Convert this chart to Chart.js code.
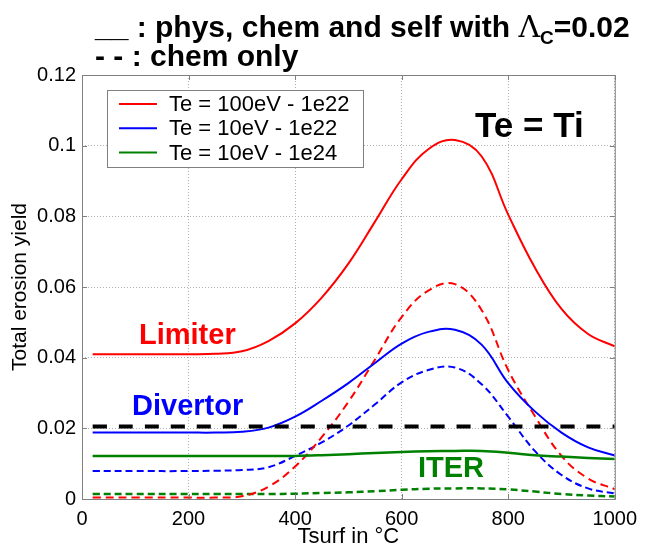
<!DOCTYPE html>
<html>
<head>
<meta charset="utf-8">
<script src="https://cdn.jsdelivr.net/npm/chart.js@4"></script>
<style>
    html, body { margin: 0; padding: 0; background: #fff; }
    #wrap { width: 645px; height: 554px; }
</style>
</head>
<body>
<div id="wrap"><canvas id="erosionChart" width="645" height="554"></canvas></div>
<script>
// -------------------------------------------------------------------------- Data

const tsurf = [20, 100, 200, 250, 300, 350, 400, 450, 500, 550, 600, 650, 700, 750, 800, 850, 900, 950, 1000]

// solid: phys, chem and self
const red100Full = [0.041, 0.041, 0.041, 0.0411, 0.0418, 0.0447, 0.0497, 0.057, 0.0666, 0.0785, 0.0905, 0.099, 0.1016, 0.097, 0.0805, 0.0655, 0.0538, 0.0467, 0.0432]
const blue10Full = [0.0188, 0.0188, 0.0188, 0.0188, 0.019, 0.0202, 0.0233, 0.0278, 0.0328, 0.0385, 0.044, 0.0473, 0.0479, 0.0437, 0.0328, 0.0248, 0.0188, 0.0146, 0.0123]
const green1e24Full = [0.0122, 0.0122, 0.0122, 0.0122, 0.0122, 0.0122, 0.0122, 0.0124, 0.0127, 0.013, 0.0133, 0.0135, 0.0136, 0.0136, 0.0131, 0.0124, 0.012, 0.0116, 0.0113]

// dashed: chem only
const red100Chem = [0.0004, 0.0004, 0.0004, 0.0004, 0.0008, 0.0035, 0.0092, 0.0175, 0.0275, 0.0395, 0.0515, 0.059, 0.0608, 0.0535, 0.0365, 0.0235, 0.0122, 0.0058, 0.0028]
const blue10Chem = [0.0079, 0.0079, 0.0079, 0.008, 0.0082, 0.009, 0.0122, 0.016, 0.0208, 0.0268, 0.033, 0.0365, 0.0372, 0.0325, 0.0233, 0.0136, 0.0068, 0.003, 0.0016]
const green1e24Chem = [0.0014, 0.0014, 0.0014, 0.0014, 0.0014, 0.0014, 0.0015, 0.0017, 0.0019, 0.0022, 0.0026, 0.0029, 0.003, 0.003, 0.0027, 0.0021, 0.0014, 0.001, 0.0007]

const lambdaTsurf = [20, 1000]
const lambdaC = [0.0205, 0.0205]

const xTicks = [0, 200, 400, 600, 800, 1000]
const yTicks = [0, 0.02, 0.04, 0.06, 0.08, 0.1, 0.12]

const legendLabels = ['Te = 100eV - 1e22', 'Te = 10eV - 1e22', 'Te = 10eV - 1e24']

let red = '#ff0000'
let blue = '#0000ff'
let green = '#008000'
let black = '#000000'
let font = '"Liberation Sans", Arial, Helvetica, sans-serif'

const toPoints = (xs, ys) => xs.map((x, i) => ({ x: x, y: ys[i] }))

// -------------------------------------------------------------------------- Datasets

function line(xs, ys, color, dash, width) {
    return {
        data: toPoints(xs, ys),
        borderColor: color,
        backgroundColor: color,
        borderWidth: width,
        borderDash: dash,
        pointRadius: 0,
        fill: false,
        tension: 0.4
    }
}

const datasets = [
    line(lambdaTsurf, lambdaC, black, [14, 12], 4),
    line(tsurf, red100Full, red, [], 2),
    line(tsurf, blue10Full, blue, [], 2),
    line(tsurf, green1e24Full, green, [], 2.5),
    line(tsurf, red100Chem, red, [8, 5], 2),
    line(tsurf, blue10Chem, blue, [7, 4], 2),
    line(tsurf, green1e24Chem, green, [7, 4], 2.5)
]

// -------------------------------------------------------------------------- Decorations

const decorations = {
    id: 'decorations',
    afterDraw(chart) {
        const ctx = chart.ctx
        const a = chart.chartArea
        const xs = chart.scales.x
        const ys = chart.scales.y
        ctx.save()

        // axes box
        ctx.strokeStyle = '#808080'
        ctx.lineWidth = 1
        ctx.strokeRect(a.left + 0.5, a.top + 0.5, a.right - a.left, a.bottom - a.top)

        // inside tick marks
        ctx.beginPath()
        xTicks.forEach(t => {
            let px = Math.round(xs.getPixelForValue(t)) + 0.5
            ctx.moveTo(px, a.bottom); ctx.lineTo(px, a.bottom - 5)
            ctx.moveTo(px, a.top); ctx.lineTo(px, a.top + 5)
        })
        yTicks.forEach(t => {
            let py = Math.round(ys.getPixelForValue(t)) + 0.5
            ctx.moveTo(a.left, py); ctx.lineTo(a.left + 5, py)
            ctx.moveTo(a.right, py); ctx.lineTo(a.right - 5, py)
        })
        ctx.stroke()

        // titles
        ctx.fillStyle = black
        ctx.textBaseline = 'alphabetic'
        ctx.textAlign = 'left'
        ctx.font = 'bold 30px ' + font
        let first = '__ : phys, chem and self with '
        ctx.fillText(first, 95, 37)
        let x = 95 + ctx.measureText(first).width
        ctx.font = '30px "DejaVu Serif", serif'
        ctx.fillText('\u039B', x, 37)
        x += ctx.measureText('\u039B').width
        ctx.font = 'bold 19px ' + font
        ctx.fillText('C', x, 44)
        x += ctx.measureText('C').width
        ctx.font = 'bold 30px ' + font
        ctx.fillText('=0.02', x, 37)
        ctx.fillText('- - : chem only', 95, 66)

        // annotations
        ctx.font = 'bold 35px ' + font
        ctx.fillText('Te = Ti', 475, 137)
        ctx.font = 'bold 29px ' + font
        ctx.fillStyle = red
        ctx.fillText('Limiter', 139, 344)
        ctx.fillStyle = blue
        ctx.fillText('Divertor', 132, 415)
        ctx.fillStyle = green
        ctx.fillText('ITER', 418, 477)

        // legend
        ctx.fillStyle = '#ffffff'
        ctx.fillRect(107.5, 90.5, 256, 77)
        ctx.strokeStyle = '#808080'
        ctx.lineWidth = 1
        ctx.strokeRect(107.5, 90.5, 256, 77)
        let colors = [red, blue, green]
        ctx.font = '22px ' + font
        ctx.textBaseline = 'middle'
        legendLabels.forEach((label, i) => {
            let ly = 104 + i * 24.3
            ctx.strokeStyle = colors[i]
            ctx.lineWidth = 2
            ctx.beginPath()
            ctx.moveTo(119, ly)
            ctx.lineTo(157, ly)
            ctx.stroke()
            ctx.fillStyle = black
            ctx.fillText(label, 169, ly + 1)
        })

        ctx.restore()
    }
}

// -------------------------------------------------------------------------- Chart

const configErosion = {
    type: 'line',
    data: { datasets: datasets },
    options: {
        responsive: false,
        animation: false,
        layout: { padding: { top: 75, right: 25, left: 0, bottom: 0 } },
        plugins: {
            legend: { display: false },
            tooltip: { enabled: false }
        },
        scales: {
            x: {
                type: 'linear',
                min: 0,
                max: 1000,
                afterFit: s => { s.height = 55 },
                afterBuildTicks: s => { s.ticks = xTicks.map(v => ({ value: v })) },
                ticks: {
                    color: black,
                    padding: 8,
                    maxRotation: 0,
                    font: { family: font, size: 20 },
                    callback: v => String(v)
                },
                grid: { color: '#b0b0b0', drawTicks: false, lineWidth: 1 },
                border: { display: false, dash: [1, 2] },
                title: {
                    display: true,
                    text: 'Tsurf in \u00B0C',
                    color: black,
                    padding: { top: 0, bottom: 4 },
                    font: { family: font, size: 22 }
                }
            },
            y: {
                min: 0,
                max: 0.12,
                afterFit: s => { s.width = 82 },
                afterBuildTicks: s => { s.ticks = yTicks.map(v => ({ value: v })) },
                ticks: {
                    color: black,
                    padding: 6,
                    font: { family: font, size: 20 },
                    callback: v => String(parseFloat(v.toFixed(2)))
                },
                grid: { color: '#b0b0b0', drawTicks: false, lineWidth: 1 },
                border: { display: false, dash: [1, 2] },
                title: {
                    display: true,
                    text: 'Total erosion yield',
                    color: black,
                    padding: { top: 8, bottom: 0 },
                    font: { family: font, size: 21 }
                }
            }
        }
    },
    plugins: [decorations]
}

let erosionChart = new Chart(
    document.getElementById('erosionChart'),
    configErosion
)
</script>
</body>
</html>
